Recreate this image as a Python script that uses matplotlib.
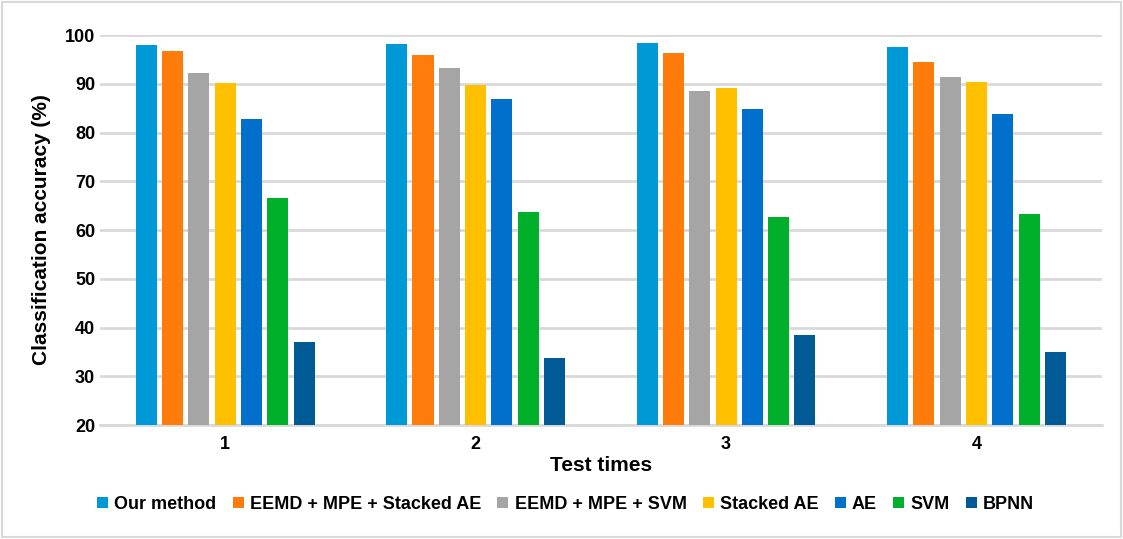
import numpy as np
import matplotlib
matplotlib.use('Agg')
import matplotlib.pyplot as plt
from matplotlib.patches import Rectangle

# data
tests = ['1', '2', '3', '4']
methods = ['Our method', 'EEMD + MPE + Stacked AE', 'EEMD + MPE + SVM',
           'Stacked AE', 'AE', 'SVM', 'BPNN']
our_method = [97.9, 98.2, 98.4, 97.5]
eemd_mpe_sae = [96.7, 96.0, 96.3, 94.5]
eemd_mpe_svm = [92.3, 93.3, 88.5, 91.3]
stacked_ae = [90.2, 89.7, 89.2, 90.4]
ae = [82.8, 86.8, 84.9, 83.8]
svm = [66.6, 63.7, 62.7, 63.2]
bpnn = [37.0, 33.7, 38.5, 35.0]
yticks = [20, 30, 40, 50, 60, 70, 80, 90, 100]

series = [our_method, eemd_mpe_sae, eemd_mpe_svm, stacked_ae, ae, svm, bpnn]
colors = ['#0099D8', '#FF7C0A', '#A5A5A5', '#FFC000', '#0070CC', '#00B02A', '#005A96']

plt.rcParams['font.family'] = ['Liberation Sans', 'DejaVu Sans']
plt.rcParams['font.weight'] = 'bold'

fig = plt.figure(figsize=(11.23, 5.39), dpi=100)
ax = fig.add_axes([0.089, 0.2115, 0.892, 0.7235])

x = np.arange(1, len(tests) + 1)
slot = 0.105
width = 0.084
for i, (vals, c, name) in enumerate(zip(series, colors, methods)):
    offs = (i - 3) * slot
    ax.bar(x + offs, vals, width=width, color=c, label=name, zorder=3)

ax.set_xlim(0.5, 4.5)
ax.set_ylim(20, 100)
ax.set_yticks(yticks)
ax.set_xticks(x)
ax.set_xticklabels(tests)
ax.tick_params(axis='both', length=0, labelsize=13)
ax.tick_params(axis='x', pad=8)
ax.grid(axis='y', color='#D9D9D9', linewidth=2, zorder=0)
for s in ['top', 'right', 'left']:
    ax.spines[s].set_visible(False)
ax.spines['bottom'].set_color('#D9D9D9')
ax.spines['bottom'].set_linewidth(2)

ax.set_ylabel('Classification accuracy (%)', fontsize=15, fontweight='bold', labelpad=10)
ax.set_xlabel('Test times', fontsize=15, fontweight='bold', labelpad=2)

ax.legend(loc='upper center', bbox_to_anchor=(0.465, -0.14), ncol=7, frameon=False,
          fontsize=13, handlelength=0.6, handleheight=0.6, handletextpad=0.35,
          columnspacing=0.9)

# light frame around the whole chart
fig.patches.append(Rectangle((0.002, 0.004), 0.996, 0.992, transform=fig.transFigure,
                             fill=False, edgecolor='#D9D9D9', linewidth=1.5))

fig.savefig('out.png', dpi=100)
